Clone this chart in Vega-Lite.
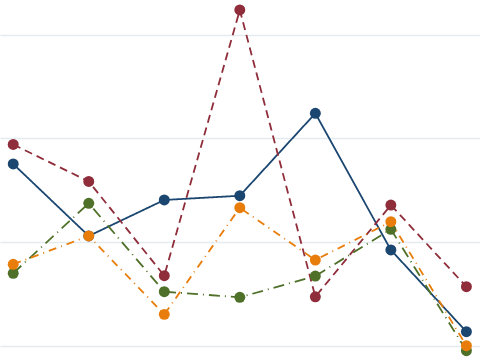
{
  "$schema": "https://vega.github.io/schema/vega-lite/v6.json",
  "width": 480,
  "height": 360,
  "autosize": {"type": "fit", "contains": "padding"},
  "padding": 0,
  "background": "white",
  "config": {"view": {"stroke": null}},
  "data": {"values": [
    {"x": 0, "series": "A", "v": 17.54}, {"x": 1, "series": "A", "v": 10.58}, {"x": 2, "series": "A", "v": 14.06}, {"x": 3, "series": "A", "v": 14.47}, {"x": 4, "series": "A", "v": 22.43}, {"x": 5, "series": "A", "v": 9.23}, {"x": 6, "series": "A", "v": 1.33},
    {"x": 0, "series": "B", "v": 19.42}, {"x": 1, "series": "B", "v": 15.85}, {"x": 2, "series": "B", "v": 6.74}, {"x": 3, "series": "B", "v": 32.42}, {"x": 4, "series": "B", "v": 4.71}, {"x": 5, "series": "B", "v": 13.57}, {"x": 6, "series": "B", "v": 5.68},
    {"x": 0, "series": "C", "v": 6.98}, {"x": 1, "series": "C", "v": 13.74}, {"x": 2, "series": "C", "v": 5.2}, {"x": 3, "series": "C", "v": 4.66}, {"x": 4, "series": "C", "v": 6.71}, {"x": 5, "series": "C", "v": 11.23}, {"x": 6, "series": "C", "v": -0.5},
    {"x": 0, "series": "D", "v": 7.85}, {"x": 1, "series": "D", "v": 10.58}, {"x": 2, "series": "D", "v": 3.01}, {"x": 3, "series": "D", "v": 13.31}, {"x": 4, "series": "D", "v": 8.26}, {"x": 5, "series": "D", "v": 11.96}, {"x": 6, "series": "D", "v": -0.02}
  ]},
  "encoding": {
    "x": {"field": "x", "type": "quantitative", "scale": {"domain": [-0.175, 6.18], "nice": false, "zero": false}, "axis": null},
    "y": {"field": "v", "type": "quantitative", "scale": {"domain": [-1.4, 33.38], "nice": false, "zero": false},
      "axis": {"values": [0, 10, 20, 30], "grid": true, "gridColor": "#e4ecf0", "gridWidth": 1.6, "domain": false, "ticks": false, "labels": false, "title": null}},
    "color": {"field": "series", "type": "nominal", "scale": {"domain": ["A", "B", "C", "D"], "range": ["#1a4670", "#8f2d3a", "#4f7028", "#e87d0b"]}, "legend": null},
    "strokeDash": {"field": "series", "type": "nominal", "scale": {"domain": ["A", "B", "C", "D"], "range": [[1, 0], [8, 5], [11, 5, 1, 5], [8, 5, 1, 5]]}, "legend": null},
    "order": {"field": "x"}
  },
  "layer": [
    {"mark": {"type": "line", "strokeWidth": 1.8}},
    {"mark": {"type": "point", "filled": true, "size": 120, "opacity": 1, "shape": "circle"}, "encoding": {"strokeDash": {"value": [1, 0]}}}
  ]
}
